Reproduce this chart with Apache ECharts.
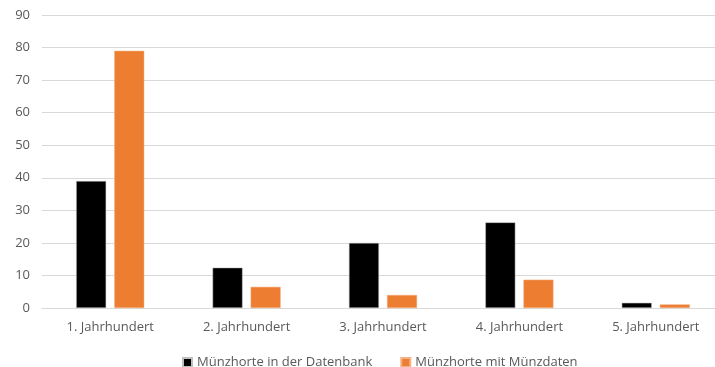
<!DOCTYPE html>
<html>
<head>
<meta charset="utf-8">
<script src="https://cdn.jsdelivr.net/npm/echarts@6/dist/echarts.min.js"></script>
<style>
  html, body { margin: 0; padding: 0; background: #fff; overflow: hidden; }
  #chart { width: 724px; height: 367px; }
</style>
</head>
<body>
<div id="chart"></div>
<script>
// Jahrhunderte
let categories = ['1. Jahrhundert', '2. Jahrhundert', '3. Jahrhundert', '4. Jahrhundert', '5. Jahrhundert'];
let datenbank = [39, 12.4, 20, 26.3, 1.6];
let muenzdaten = [79, 6.5, 4, 8.7, 1.1];
let seriesNames = ['Münzhorte in der Datenbank', 'Münzhorte mit Münzdaten'];

// plot area runs past the right edge of the picture, as in the original
let chart = echarts.init(document.getElementById('chart'));
let textFont = '"Open Sans", "Noto Sans", sans-serif';
let option = {
    animation: false,
    textStyle: { fontFamily: textFont },
    grid: { left: 42, right: 0, top: 15, bottom: 59 },
    legend: {
        top: 351,
        left: 177,
        itemWidth: 9,
        itemHeight: 9,
        itemGap: 28,
        icon: 'rect',
        textStyle: { color: '#595959', fontSize: 13, fontFamily: textFont },
        data: seriesNames
    },
    xAxis: {
        type: 'category',
        data: categories,
        axisLine: { lineStyle: { color: '#d9d9d9', width: 1 } },
        axisTick: { show: false },
        axisLabel: { color: '#595959', fontSize: 13, margin: 13 }
    },
    yAxis: {
        type: 'value',
        min: 0,
        max: 90,
        interval: 10,
        axisLine: { show: false },
        axisTick: { show: false },
        axisLabel: { color: '#595959', fontSize: 13, margin: 12 },
        splitLine: { lineStyle: { color: '#d9d9d9', width: 1 } }
    },
    series: [
        {
            name: seriesNames[0],
            type: 'bar',
            data: datenbank,
            barWidth: 30,
            barGap: '27%',
            itemStyle: { color: '#000000', borderColor: '#bfbfbf', borderWidth: 0.5 }
        },
        {
            name: seriesNames[1],
            type: 'bar',
            data: muenzdaten,
            barWidth: 30,
            barGap: '27%',
            itemStyle: { color: '#ed7d31', borderColor: '#f4b183', borderWidth: 0.5 }
        }
    ]
};
chart.setOption(option);
</script>
</body>
</html>
